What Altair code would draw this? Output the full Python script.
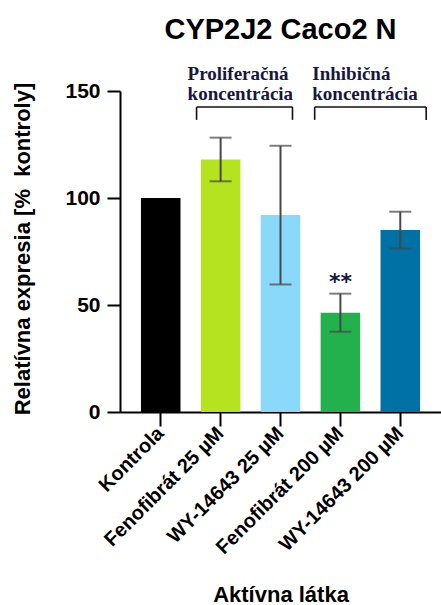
import altair as alt
import pandas as pd

# Treatment groups and measured relative expression (mean, SD)
categories = ["Kontrola", "Fenofibrát 25 µM", "WY-14643 25 µM",
              "Fenofibrát 200 µM", "WY-14643 200 µM"]
means = [100, 118, 92, 46.4, 85]
sds = [0, 10.2, 32.4, 8.9, 8.6]
colors = ["#000000", "#b5e31f", "#8ad9fb", "#23b14d", "#0071a4"]
significance = ["", "", "", "**", ""]

# Concentration groups: label and span in category-index units
group_labels = ["Proliferačná\nkoncentrácia", "Inhibičná\nkoncentrácia"]
group_start = [0.6, 2.57]
group_end = [2.2, 4.43]
group_text_start = [0.45, 2.53]

FONT = "Liberation Sans"
SERIF = "Liberation Serif"

df = pd.DataFrame({
    "cat": categories,
    "mean": means,
    "sd": sds,
    "color": colors,
    "sig": significance,
})
df["lo"] = df["mean"] - df["sd"]
df["hi"] = df["mean"] + df["sd"]

x_enc = alt.X(
    "cat:N", sort=categories, title="Aktívna látka",
    scale=alt.Scale(paddingInner=0.34, paddingOuter=0.35),
    axis=alt.Axis(labelAngle=315, labelAlign="right", labelBaseline="middle",
                  labelFontSize=20, labelPadding=4, tickSize=14,
                  titleFontSize=22, titleY=189, titleBaseline="alphabetic"),
)
y_scale = alt.Scale(domain=[0, 150], nice=False)
y_enc = alt.Y(
    "mean:Q", scale=y_scale, title="Relatívna expresia [%\u00a0 kontroly]",
    axis=alt.Axis(values=[0, 50, 100, 150], tickSize=13, labelFontSize=21,
                  labelPadding=7, titleFontSize=22, titleX=-98, titleY=157.5,
                  titleAlign="center", titleBaseline="middle", titleAngle=270),
)

base = alt.Chart(df)
bars = base.mark_bar().encode(
    x=x_enc, y=y_enc,
    color=alt.Color("color:N", scale=None),
)
err = base.transform_filter("datum.sd > 0")
err_rule = err.mark_rule(color="#474747", strokeWidth=2).encode(
    x=alt.X("cat:N", sort=categories), y="lo:Q", y2="hi:Q")
err_lo = err.mark_tick(color="#474747", size=22, thickness=2).encode(
    x=alt.X("cat:N", sort=categories), y="lo:Q")
err_hi = err.mark_tick(color="#474747", size=22, thickness=2).encode(
    x=alt.X("cat:N", sort=categories), y="hi:Q")
stars = base.transform_filter("datum.sig != ''").mark_text(
    font="DejaVu Sans", fontWeight="bold", fontSize=22, color="#17173f",
    baseline="alphabetic", dy=-5,
).encode(x=alt.X("cat:N", sort=categories), y="hi:Q", text="sig:N")

main = alt.layer(bars, err_rule, err_lo, err_hi, stars)

# Brackets grouping the treatments by concentration
gdf = pd.DataFrame({
    "label": group_labels,
    "x0": group_start,
    "x1": group_end,
    "tx": group_text_start,
})
gdf["top"] = 142.5
gdf["leg"] = 136.5
gdf["text_y"] = 155.1
legs = pd.concat([
    gdf[["x0", "top", "leg"]].rename(columns={"x0": "x"}),
    gdf[["x1", "top", "leg"]].rename(columns={"x1": "x"}),
])

ix = alt.Scale(domain=[-0.677, 4.677], nice=False, zero=False)
bracket_h = alt.Chart(gdf).mark_rule(color="#111111", strokeWidth=1.6).encode(
    x=alt.X("x0:Q", scale=ix, axis=None), x2="x1:Q",
    y=alt.Y("top:Q", scale=y_scale))
bracket_v = alt.Chart(legs).mark_rule(color="#111111", strokeWidth=1.6).encode(
    x=alt.X("x:Q", scale=ix, axis=None),
    y=alt.Y("top:Q", scale=y_scale), y2="leg:Q")
bracket_text = alt.Chart(gdf).mark_text(
    font=SERIF, fontWeight="bold", fontSize=19, color="#17173f",
    align="left", baseline="alphabetic", lineBreak="\n", lineHeight=20,
).encode(
    x=alt.X("tx:Q", scale=ix, axis=None),
    y=alt.Y("text_y:Q", scale=y_scale), text="label:N")

ann = alt.layer(bracket_h, bracket_v, bracket_text)

chart = alt.layer(main, ann).resolve_scale(x="independent").properties(
    width=321, height=321,
    autosize=alt.AutoSizeParams(type="none"),
    padding={"left": 120, "top": 91, "right": 0, "bottom": 193},
    title=alt.TitleParams("CYP2J2 Caco2 N", font=FONT, fontSize=29,
                          fontWeight="bold", color="#000000", anchor="middle",
                          frame="group", offset=20),
).configure_axis(
    domainColor="#000000", domainWidth=2, tickColor="#000000", tickWidth=2,
    labelFont=FONT, labelFontWeight="bold", labelColor="#000000",
    titleFont=FONT, titleFontWeight="bold", titleColor="#000000", grid=False,
).configure_view(stroke=None)

chart.save("out.html", embed_options={"renderer": "svg", "actions": False})
